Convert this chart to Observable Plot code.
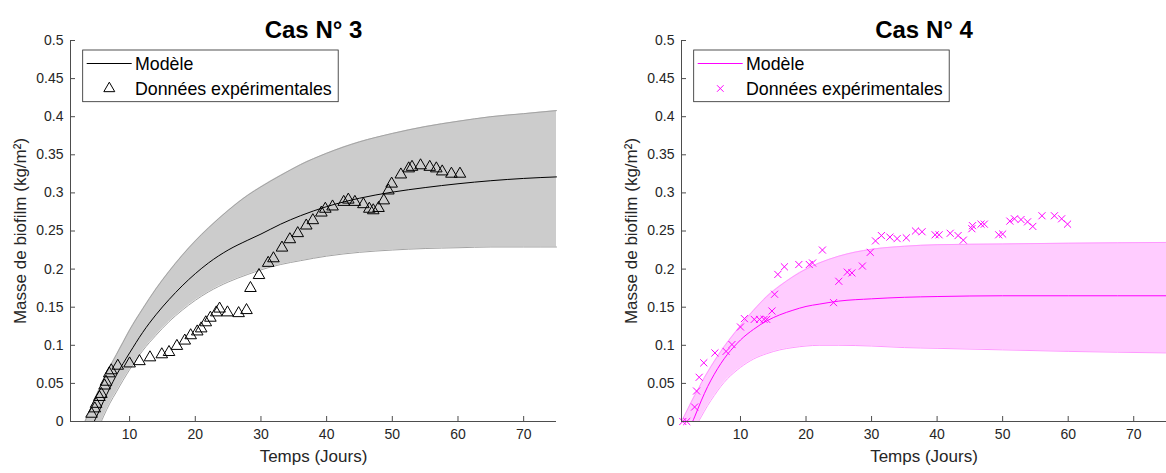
<!DOCTYPE html>
<html><head><meta charset="utf-8">
<script src="https://cdn.jsdelivr.net/npm/d3@7"></script>
<script src="https://cdn.jsdelivr.net/npm/@observablehq/plot@0.6"></script>
<style>
body{margin:0;background:#fff;}
#wrap{display:flex;width:1166px;height:473px;overflow:hidden;}
</style></head><body><div id="wrap"></div>
<script>
// ---------- tick values ----------
const xTicks = [10, 20, 30, 40, 50, 60, 70];
const yTicks = [0, 0.05, 0.1, 0.15, 0.2, 0.25, 0.3, 0.35, 0.4, 0.45, 0.5];
const titles = ["Cas N° 3", "Cas N° 4"];
const xLabel = "Temps (Jours)";
const yLabel = "Masse de biofilm (kg/m²)";
const legendLabels = ["Modèle", "Données expérimentales"];

// ---------- Cas N° 3 ----------
const c3ExpT = [4.2,4.7,4.9,5.4,5.7,6.2,6.4,6.9,7.2,8.2,10.0,11.5,13.1,14.9,16.0,17.2,18.4,19.3,20.3,20.9,21.6,22.3,23.2,23.7,24.9,26.6,27.8,28.4,29.7,31.1,31.9,33.2,34.4,35.6,36.9,37.9,39.2,39.8,40.9,42.6,43.3,44.3,45.6,46.5,47.1,47.9,48.7,49.4,49.9,51.3,52.5,53.0,54.3,55.7,56.7,57.6,59.0,60.3];
const c3ExpV = [0.010,0.017,0.023,0.032,0.036,0.047,0.052,0.063,0.067,0.073,0.076,0.079,0.084,0.088,0.091,0.099,0.106,0.113,0.118,0.122,0.130,0.136,0.143,0.148,0.143,0.142,0.146,0.175,0.192,0.208,0.214,0.228,0.239,0.247,0.257,0.264,0.274,0.279,0.282,0.288,0.291,0.288,0.285,0.279,0.277,0.280,0.290,0.303,0.312,0.324,0.332,0.334,0.336,0.334,0.332,0.328,0.325,0.325];
const c3ModelT = [4.6,5,6,7,8,9,10,12,14,16,18,20,22,25,28,30,33,36,40,45,50,55,60,65,70,75];
const c3ModelV = [0,0.007,0.026,0.044,0.061,0.076,0.09,0.117,0.14,0.16,0.178,0.194,0.208,0.225,0.238,0.246,0.259,0.27,0.282,0.293,0.301,0.307,0.312,0.316,0.319,0.321];
const c3BandT  = [3.2,4,5,5.7,6,7,8,9,10,12,14,16,18,20,22,25,28,30,33,36,40,45,50,55,60,65,70,75];
const c3BandHi = [0,0.016,0.036,0.049,0.055,0.072,0.088,0.104,0.12,0.148,0.174,0.197,0.218,0.237,0.254,0.277,0.297,0.308,0.323,0.337,0.352,0.367,0.378,0.387,0.394,0.40,0.404,0.408];
const c3BandLo = [0,0,0,0,0.006,0.024,0.039,0.054,0.068,0.093,0.113,0.131,0.146,0.159,0.17,0.183,0.193,0.199,0.206,0.211,0.217,0.222,0.225,0.227,0.228,0.229,0.229,0.229];

// ---------- Cas N° 4 ----------
const c4ExpT = [1.2,1.8,3.0,3.3,3.7,4.4,6.1,7.8,8.7,10.0,10.6,12.1,12.9,13.6,14.0,14.8,15.2,15.7,16.7,18.9,20.5,21.0,22.5,24.2,25.0,26.3,27.0,28.6,29.8,30.6,31.5,32.8,33.9,35.3,36.7,37.7,39.7,40.3,42.0,43.2,44.0,45.3,45.4,46.7,47.2,49.4,50.0,51.1,51.8,52.8,53.8,54.6,56.0,57.9,59.0,59.9];
const c4ExpV = [0,0,0.019,0.040,0.058,0.077,0.090,0.092,0.101,0.124,0.135,0.134,0.134,0.134,0.134,0.145,0.167,0.193,0.203,0.206,0.206,0.208,0.225,0.156,0.184,0.196,0.195,0.204,0.222,0.237,0.244,0.242,0.240,0.241,0.250,0.249,0.245,0.245,0.247,0.244,0.238,0.253,0.257,0.259,0.259,0.245,0.246,0.263,0.266,0.265,0.262,0.256,0.270,0.270,0.266,0.259];
const c4ModelT = [2.7,3,4,5,6,7,8,9,10,12,14,16,18,20,22,25,30,35,40,50,60,75];
const c4ModelV = [0,0.006,0.027,0.046,0.062,0.076,0.088,0.098,0.107,0.121,0.132,0.14,0.146,0.151,0.154,0.158,0.161,0.163,0.164,0.165,0.165,0.165];
const c4BandT  = [1,2,3,3.6,4,5,6,7,8,9,10,12,14,16,18,20,22,25,30,35,40,50,60,75];
const c4BandHi = [0,0.017,0.034,0.043,0.05,0.065,0.079,0.092,0.104,0.115,0.126,0.146,0.164,0.178,0.19,0.2,0.208,0.217,0.226,0.23,0.232,0.233,0.234,0.235];
const c4BandLo = [0,0,0,0,0.006,0.021,0.034,0.046,0.056,0.064,0.071,0.082,0.089,0.094,0.097,0.099,0.1,0.1,0.099,0.097,0.096,0.094,0.092,0.09];

const FONT = '"Liberation Sans", Arial, Helvetica, sans-serif';
const AXIS = "#4d4d4d";

function panel(o) {
  const W = 583, H = 473, MT = 40, MB = 52;
  const FW = W - o.ml - o.mr, FH = H - MT - MB;
  const exp = o.expT.map((t, i) => ({t, v: o.expV[i]}));
  const model = o.modelT.map((t, i) => ({t, v: o.modelV[i]}));
  const band = o.bandT.map((t, i) => ({t, lo: o.bandLo[i], hi: o.bandHi[i]}));
  const loEdge = band.filter(d => d.t >= o.loStart);
  const node = Plot.plot({
    width: W, height: H, marginLeft: o.ml, marginRight: o.mr, marginTop: MT, marginBottom: MB,
    style: {fontFamily: FONT, fontSize: "14px", color: "#262626", background: "white"},
    x: {domain: [1, 75]},
    y: {domain: [0, 0.5]},
    marks: [
      Plot.areaY(band, {x: "t", y1: "lo", y2: "hi", fill: o.bandFill, curve: "monotone-x"}),
      Plot.line(band, {x: "t", y: "hi", stroke: o.bandEdge, strokeWidth: 1, curve: "monotone-x"}),
      Plot.line(loEdge, {x: "t", y: "lo", stroke: o.bandEdge, strokeWidth: 1, curve: "monotone-x"}),
      Plot.line(model, {x: "t", y: "v", stroke: o.color, strokeWidth: 1, curve: "monotone-x"}),
      Plot.dot(exp, {x: "t", y: "v", symbol: o.symbol, r: o.r, stroke: o.color, fill: "none", strokeWidth: 1}),
      Plot.ruleY([0], {stroke: AXIS}),
      Plot.ruleX([1], {stroke: AXIS}),
      Plot.tickX(xTicks, {x: d => d, insetTop: FH - 5, stroke: AXIS}),
      Plot.tickY(yTicks, {y: d => d, insetRight: FW - 5, stroke: AXIS}),
      Plot.axisX(xTicks, {tickSize: 0, tickPadding: 8, tickFormat: d => String(d), label: null, fill: "#262626"}),
      Plot.axisY(yTicks, {tickSize: 0, tickPadding: 7, tickFormat: d => String(d), label: null, fill: "#262626"}),
      Plot.text([o.title], {frameAnchor: "top", dy: -20, textAnchor: "middle", fontWeight: "bold", fontSize: 24, fill: "#000"}),
      Plot.text([xLabel], {frameAnchor: "bottom", dy: 40, textAnchor: "middle", fontSize: 17, fill: "#262626"}),
      Plot.text([yLabel], {frameAnchor: "left", dx: -50, rotate: -90, textAnchor: "middle", fontSize: 17, fill: "#262626"})
    ]
  });
  // legend
  const svg = d3.select(node);
  const L = o.ml;
  const g = svg.append("g").attr("font-family", FONT).attr("font-size", 17.8).attr("text-anchor", "start");
  g.append("rect").attr("x", L + 12.7).attr("y", 50).attr("width", 255.5).attr("height", 51.7)
    .attr("fill", "white").attr("stroke", "#262626").attr("stroke-width", 0.8);
  g.append("line").attr("x1", L + 16.7).attr("x2", L + 61.7).attr("y1", 63.5).attr("y2", 63.5)
    .attr("stroke", o.color).attr("stroke-width", 1);
  g.append("path").attr("transform", `translate(${L + 39.3},88.5)`)
    .attr("d", d3.symbol(o.symbol === "triangle" ? d3.symbolTriangle : d3.symbolTimes, o.symbol === "triangle" ? 52 : 30)())
    .attr("fill", "none").attr("stroke", o.color).attr("stroke-width", 1);
  g.append("text").attr("x", L + 65).attr("y", 63.5).attr("dy", "0.35em").attr("fill", "#000").text(legendLabels[0]);
  g.append("text").attr("x", L + 65).attr("y", 88.5).attr("dy", "0.35em").attr("fill", "#000").text(legendLabels[1]);
  return node;
}

const wrap = document.getElementById("wrap");
wrap.appendChild(panel({
  title: titles[0], ml: 70, mr: 27,
  expT: c3ExpT, expV: c3ExpV, modelT: c3ModelT, modelV: c3ModelV,
  bandT: c3BandT, bandHi: c3BandHi, bandLo: c3BandLo, loStart: 5.7,
  bandFill: "#cccccc", bandEdge: "#a3a3a3", color: "#000000", symbol: "triangle", r: 4.3
}));
wrap.appendChild(panel({
  title: titles[1], ml: 98, mr: 0,
  expT: c4ExpT, expV: c4ExpV, modelT: c4ModelT, modelV: c4ModelV,
  bandT: c4BandT, bandHi: c4BandHi, bandLo: c4BandLo, loStart: 3.6,
  bandFill: "#ffccff", bandEdge: "#ff99ff", color: "#ff00ff", symbol: "times", r: 3.3
}));
</script></body></html>
